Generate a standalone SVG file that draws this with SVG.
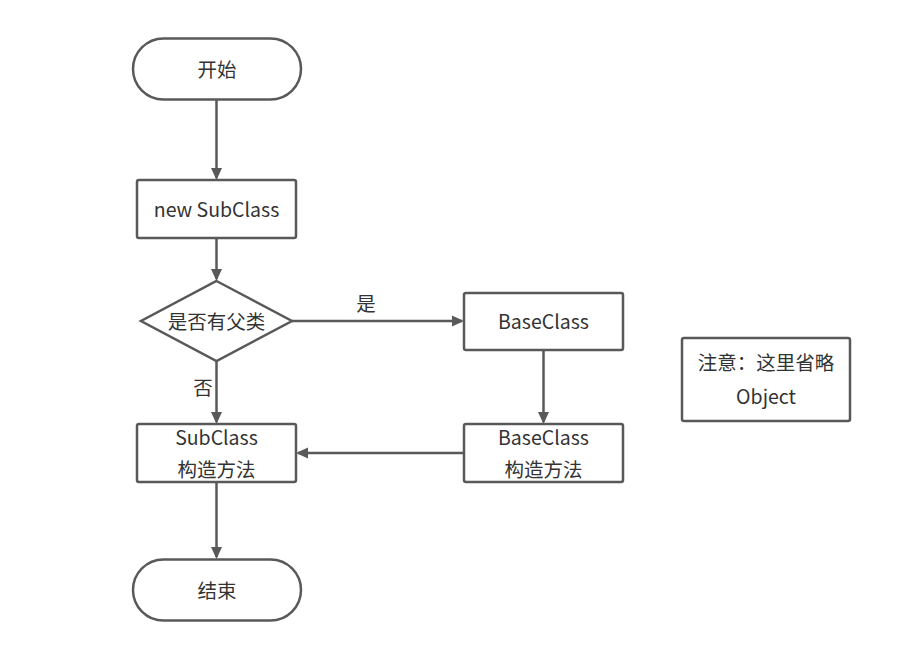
<svg xmlns="http://www.w3.org/2000/svg" width="900" height="645" viewBox="0 0 900 645">
<defs>
<style>
.s{fill:#fff;stroke:#595959;stroke-width:2.5}
.c{fill:none;stroke:#595959;stroke-width:2.5}
.t{font-family:"Noto Sans CJK SC","Microsoft YaHei",sans-serif;font-size:19.5px;fill:#333;text-anchor:middle;dominant-baseline:central}
</style>
<marker id="a" markerWidth="12" markerHeight="12" refX="10" refY="6" orient="auto" markerUnits="userSpaceOnUse">
<path d="M0,0.5 L12,6 L0,11.5 Z" fill="#595959"/>
</marker>
</defs>
<rect width="900" height="645" fill="#fff"/>
<g id="connectors">
<path class="c" d="M216.5,100 V178" marker-end="url(#a)"/>
<path class="c" d="M216.5,239 V279" marker-end="url(#a)"/>
<path class="c" d="M292,321 H462" marker-end="url(#a)"/>
<path class="c" d="M216.5,361 V422" marker-end="url(#a)"/>
<path class="c" d="M543.5,351 V422" marker-end="url(#a)"/>
<path class="c" d="M464,453 H298" marker-end="url(#a)"/>
<path class="c" d="M216.5,483 V557" marker-end="url(#a)"/>
<text class="t" x="366" y="302">是</text>
<text class="t" x="203" y="386">否</text>
</g>
<g id="start">
<rect class="s" x="133" y="38.5" width="168" height="61" rx="30.5"/>
<text class="t" x="217" y="68">开始</text>
</g>
<g id="new-subclass">
<rect class="s" x="137" y="180" width="159" height="58" rx="2"/>
<text class="t" x="216.5" y="208">new SubClass</text>
</g>
<g id="decision">
<polygon class="s" points="216.5,281 292,321 216.5,361 141,321"/>
<text class="t" x="216.5" y="320">是否有父类</text>
</g>
<g id="baseclass">
<rect class="s" x="464" y="293" width="159" height="57" rx="2"/>
<text class="t" x="543.5" y="320.5">BaseClass</text>
</g>
<g id="note">
<rect class="s" x="682" y="338" width="168" height="83" rx="2"/>
<text class="t" x="766" y="361">注意：这里省略</text>
<text class="t" x="766" y="395">Object</text>
</g>
<g id="subclass-ctor">
<rect class="s" x="137" y="424" width="159" height="58" rx="2"/>
<text class="t" x="216.5" y="436">SubClass</text>
<text class="t" x="216.5" y="468">构造方法</text>
</g>
<g id="baseclass-ctor">
<rect class="s" x="464" y="424" width="159" height="58" rx="2"/>
<text class="t" x="543.5" y="436">BaseClass</text>
<text class="t" x="543.5" y="468">构造方法</text>
</g>
<g id="end">
<rect class="s" x="133" y="559.5" width="168" height="61" rx="30.5"/>
<text class="t" x="217" y="589">结束</text>
</g>
</svg>
